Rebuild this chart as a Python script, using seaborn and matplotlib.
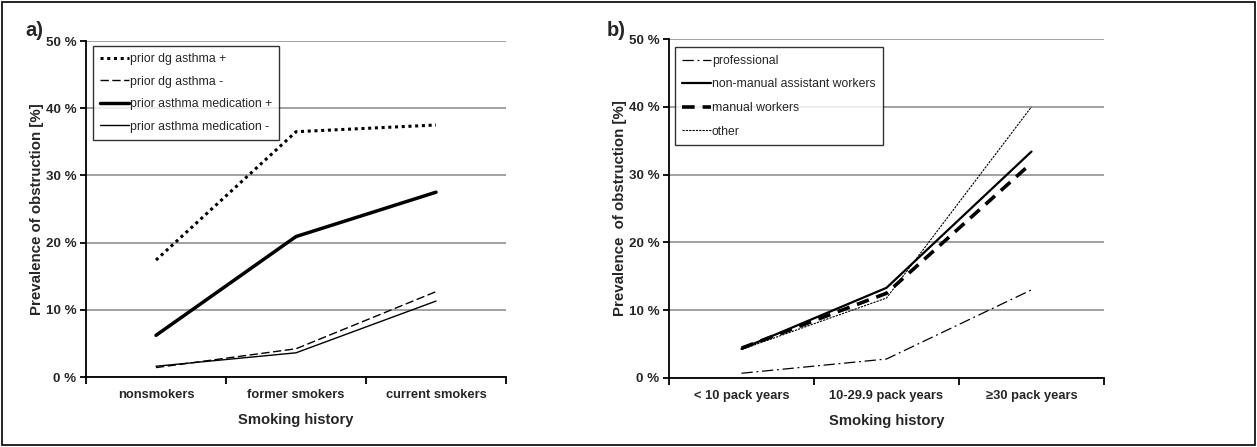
import matplotlib
matplotlib.use("Agg")
import matplotlib.pyplot as plt
import seaborn as sns
import pandas as pd
from matplotlib.patches import Rectangle
from matplotlib.ticker import FixedLocator

# ---- data ----
cats_a = ["nonsmokers", "former smokers", "current smokers"]
dg_pos = [17.4, 36.5, 37.5]
dg_neg = [1.4, 4.2, 12.7]
med_pos = [6.2, 20.9, 27.5]
med_neg = [1.6, 3.6, 11.3]

cats_b = ["< 10 pack years", "10-29.9 pack years", "≥30 pack years"]
professional = [0.7, 2.8, 13.0]
non_manual = [4.3, 13.3, 33.4]
manual = [4.4, 12.5, 31.7]
other = [4.2, 11.8, 40.0]

y_ticks = [0, 10, 20, 30, 40, 50]
y_ticklabels = ["0 %", "10 %", "20 %", "30 %", "40 %", "50 %"]

sns.set_theme(style="white")
plt.rcParams['font.family'] = ['Liberation Sans', 'DejaVu Sans']

fig = plt.figure(figsize=(12.57, 4.47), dpi=100)
W, H = 1257, 447
def box(l, t, r, b):
    return [l / W, 1 - b / H, (r - l) / W, (b - t) / H]

ax_a = fig.add_axes(box(86, 41, 506, 377))
ax_b = fig.add_axes(box(669, 39, 1104, 378))

series_a = [
    ("prior dg asthma +", dg_pos, dict(lw=2.2, ls=(0, (1, 1.2)))),
    ("prior dg asthma -", dg_neg, dict(lw=1.0, ls=(0, (6, 2.5)))),
    ("prior asthma medication +", med_pos, dict(lw=2.5, ls="-")),
    ("prior asthma medication -", med_neg, dict(lw=1.0, ls="-")),
]
series_b = [
    ("professional", professional, dict(lw=0.9, ls=(0, (9, 3, 1.5, 3)))),
    ("non-manual assistant workers", non_manual, dict(lw=1.6, ls="-")),
    ("manual workers", manual, dict(lw=2.6, ls=(0, (3.5, 2.2)))),
    ("other", other, dict(lw=0.8, ls=(0, (2, 1)))),
]

def draw(ax, cats, series, ylabel, legend_bbox, spacing):
    for name, vals, st in series:
        df = pd.DataFrame({"cat": cats, "val": vals})
        sns.lineplot(data=df, x="cat", y="val", ax=ax, color="black",
                     linewidth=st["lw"], linestyle=st["ls"], label=name,
                     sort=False)
    ax.set_xlim(-0.5, 2.5)
    ax.set_ylim(0, 50)
    ax.set_yticks(y_ticks)
    ax.set_yticklabels(y_ticklabels, fontsize=9.6, fontweight="bold")
    ax.grid(axis="y", color="#9a9a9a", lw=1.3)
    ax.set_axisbelow(True)
    for s in ["top", "right"]:
        ax.spines[s].set_visible(False)
    for s in ["left", "bottom"]:
        ax.spines[s].set_color("black")
        ax.spines[s].set_linewidth(1.3)
    ax.tick_params(axis="x", which="major", length=0, pad=9)
    ax.xaxis.set_minor_locator(FixedLocator([-0.5, 0.5, 1.5, 2.5]))
    ax.tick_params(axis="x", which="minor", length=5, width=1.3, color="black", direction="out", bottom=True)
    ax.tick_params(axis="y", length=4, width=1.3, color="black", direction="out", left=True, pad=3)
    for lab in ax.get_xticklabels():
        lab.set_fontsize(9.3)
        lab.set_fontweight("bold")
    ax.set_xlabel("Smoking history", fontsize=10.6, fontweight="bold", labelpad=8)
    ax.set_ylabel(ylabel, fontsize=10.8, fontweight="bold", labelpad=1)
    leg = ax.legend(loc="upper left", bbox_to_anchor=legend_bbox, frameon=True,
                    fancybox=False, edgecolor="black", fontsize=8.8,
                    handlelength=2.3, handletextpad=0.1, labelspacing=spacing,
                    borderpad=0.6, borderaxespad=0)
    leg.get_frame().set_linewidth(1.0)

draw(ax_a, cats_a, series_a, "Prevalence of obstruction [%]", (0.017, 0.985), 0.85)
draw(ax_b, cats_b, series_b, "Prevalence  of obstruction [%]", (0.014, 0.975), 0.95)

fig.text(25 / W, 1 - 30 / H, "a)", fontsize=14.5, fontweight="bold", va="center")
fig.text(607 / W, 1 - 30 / H, "b)", fontsize=14.5, fontweight="bold", va="center")

fig.patches.append(Rectangle((2 / W, 2 / H), 1 - 4 / W, 1 - 4 / H, transform=fig.transFigure,
                             fill=False, edgecolor="black", lw=1.2))

fig.savefig("out.png", dpi=100)
